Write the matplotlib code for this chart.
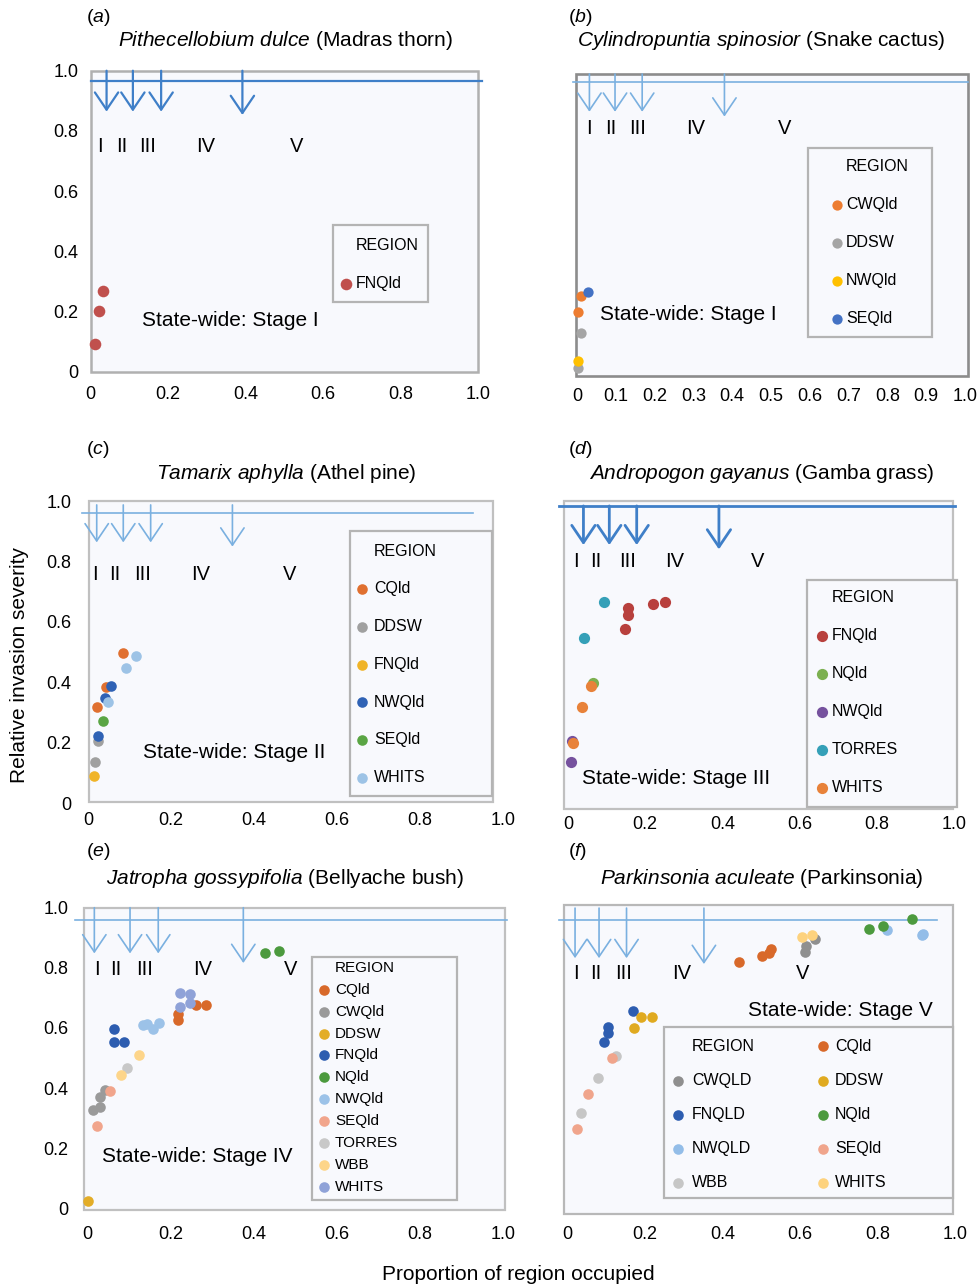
import matplotlib
matplotlib.use('Agg')
import matplotlib.pyplot as plt
from matplotlib.lines import Line2D
from matplotlib.patches import Rectangle

plt.rcParams['font.family'] = ['Liberation Sans', 'DejaVu Sans']
plt.rcParams['mathtext.fontset'] = 'custom'
plt.rcParams['mathtext.rm'] = 'Liberation Sans'
plt.rcParams['mathtext.it'] = 'Liberation Sans:italic'

# ---------------- data ----------------
stage_labels = ['I', 'II', 'III', 'IV', 'V']
ticks_main = [0, 0.2, 0.4, 0.6, 0.8, 1.0]
tick_labels_main = ['0', '0.2', '0.4', '0.6', '0.8', '1.0']
ticks_b = [0, 0.1, 0.2, 0.3, 0.4, 0.5, 0.6, 0.7, 0.8, 0.9, 1.0]
tick_labels_b = ['0', '0.1', '0.2', '0.3', '0.4', '0.5', '0.6', '0.7', '0.8', '0.9', '1.0']

# (a) Pithecellobium dulce
a_regions = ['FNQld']
a_colors = ['#c0504d']
a_x = [[0.011, 0.022, 0.033]]
a_y = [[0.091, 0.202, 0.268]]
a_stage_x = [0.041, 0.109, 0.182, 0.392]
a_label_x = [0.024, 0.080, 0.147, 0.298, 0.531]

# (b) Cylindropuntia spinosior
b_regions = ['CWQld', 'DDSW', 'NWQld', 'SEQld']
b_colors = ['#ed7d31', '#a5a5a5', '#ffc000', '#4472c4']
b_x = [[0.010, 0.003], [0.010, 0.003], [0.003], [0.029]]
b_y = [[0.265, 0.213], [0.143, 0.028], [0.051], [0.277]]
b_stage_x = [0.032, 0.098, 0.168, 0.380]
b_label_x = [0.032, 0.087, 0.155, 0.305, 0.535]

# (c) Tamarix aphylla
c_regions = ['CQld', 'DDSW', 'FNQld', 'NWQld', 'SEQld', 'WHITS']
c_colors = ['#e07030', '#a0a0a0', '#f0b428', '#2f62b5', '#5aa544', '#9dc3e6']
c_x = [[0.085, 0.043, 0.021], [0.023, 0.017], [0.014],
       [0.055, 0.041, 0.023], [0.035], [0.115, 0.092, 0.047]]
c_y = [[0.498, 0.385, 0.317], [0.205, 0.137], [0.090],
       [0.387, 0.347, 0.223], [0.273], [0.487, 0.448, 0.333]]
c_stage_x = [0.021, 0.085, 0.151, 0.348]
c_label_x = [0.017, 0.065, 0.132, 0.272, 0.485]

# (d) Andropogon gayanus
d_regions = ['FNQld', 'NQld', 'NWQld', 'TORRES', 'WHITS']
d_colors = ['#b8403d', '#7cb050', '#76529e', '#35a0b8', '#e8823a']
d_x = [[0.156, 0.156, 0.219, 0.251, 0.148], [0.064], [0.010, 0.008],
       [0.092, 0.041], [0.060, 0.035, 0.014]]
d_y = [[0.652, 0.630, 0.666, 0.673, 0.583], [0.408], [0.222, 0.152],
       [0.671, 0.556], [0.399, 0.332, 0.215]]
d_stage_x = [0.040, 0.107, 0.178, 0.391]
d_label_x = [0.021, 0.073, 0.154, 0.277, 0.491]

# (e) Jatropha gossypifolia
e_regions = ['CQld', 'CWQld', 'DDSW', 'FNQld', 'NQld', 'NWQld', 'SEQld',
             'TORRES', 'WBB', 'WHITS']
e_colors = ['#d8692a', '#9a9a9a', '#e3ad28', '#2d5db0', '#4c9a3e', '#9cc2e8',
            '#f1a58c', '#c8c8c8', '#fdd58a', '#8fa2d8']
e_x = [[0.262, 0.285, 0.218, 0.218], [0.042, 0.030, 0.030, 0.013], [0.0],
       [0.064, 0.064, 0.087], [0.427, 0.462], [0.142, 0.158, 0.172, 0.134],
       [0.054, 0.023], [0.094], [0.124, 0.080], [0.222, 0.246, 0.246, 0.222]]
e_y = [[0.676, 0.676, 0.648, 0.626], [0.395, 0.369, 0.336, 0.328], [0.023],
       [0.596, 0.554, 0.554], [0.849, 0.855], [0.612, 0.596, 0.617, 0.609],
       [0.389, 0.275], [0.468], [0.510, 0.442], [0.717, 0.712, 0.684, 0.671]]
e_stage_x = [0.016, 0.102, 0.170, 0.375]
e_label_x = [0.022, 0.068, 0.136, 0.276, 0.488]

# (f) Parkinsonia aculeate
f_regions = ['CWQLD', 'FNQLD', 'NWQLD', 'WBB', 'CQld', 'DDSW', 'NQld', 'SEQld', 'WHITS']
f_colors = ['#8f8f8f', '#2d5db0', '#93bde8', '#c6c6c6', '#d8692a', '#e0aa20',
            '#4c9a3e', '#f0a58c', '#fdd27e']
f_x = [[0.639, 0.616, 0.613], [0.168, 0.103, 0.105, 0.095], [0.824, 0.915, 0.918],
       [0.124, 0.078, 0.034], [0.525, 0.521, 0.503, 0.443], [0.189, 0.217, 0.172],
       [0.889, 0.779, 0.816], [0.115, 0.053, 0.023], [0.605, 0.630]]
f_y = [[0.890, 0.867, 0.847], [0.658, 0.606, 0.585, 0.558], [0.919, 0.903, 0.906],
       [0.511, 0.441, 0.326], [0.858, 0.844, 0.836, 0.814], [0.639, 0.637, 0.603],
       [0.955, 0.922, 0.932], [0.504, 0.388, 0.274], [0.895, 0.903]]
f_stage_x = [0.019, 0.081, 0.152, 0.352]
f_label_x = [0.021, 0.073, 0.145, 0.294, 0.607]

# ---------------- figure ----------------
W, H = 980, 1286
fig = plt.figure(figsize=(W / 100, H / 100), dpi=100)
fig.patch.set_facecolor('white')


def fx(px):
    return px / W


def fy(py):
    return 1 - py / H


BG = '#f8f9fd'
HL = 0.6


def add_legend(ax, handles, marker_x, text_x, first_y, pitch, fs):
    fpx = fs * 100 / 72.0
    h = 0.93 * fpx
    ls = (pitch - h) / fpx
    tp = (text_x - marker_x - HL * fpx / 2) / fpx
    anchor_x = marker_x - HL * fpx / 2
    anchor_y = first_y - h / 2 + 1.0
    leg = ax.legend(handles=handles, loc='upper left',
                    bbox_to_anchor=(fx(anchor_x), fy(anchor_y)),
                    bbox_transform=fig.transFigure, borderaxespad=0,
                    borderpad=0, frameon=False, fontsize=fs, labelspacing=ls,
                    handlelength=HL, handletextpad=tp, scatterpoints=1)
    leg.set_zorder(5)
    return leg


def panel(axpix, framepix, frame_style, xt, xtl, yt, ytl, xpad, ypad,
          regions, colors, xs, ys, msize,
          line_y, line_x0, line_x1, line_color, line_lw,
          stage_x, arrow_top, arrow_heads, label_x, label_y,
          legbox, legcols):
    x0, x1, ytop, ybot = axpix
    ax = fig.add_axes([fx(x0), fy(ybot), (x1 - x0) / W, (ybot - ytop) / H])
    ax.patch.set_visible(False)
    for s in ax.spines.values():
        s.set_visible(False)
    fl, ft, fr, fb = framepix
    ec, elw = frame_style
    ax.add_patch(Rectangle((fx(fl), fy(fb)), (fr - fl) / W, (fb - ft) / H,
                           transform=fig.transFigure, facecolor=BG, edgecolor=ec,
                           lw=elw, zorder=0, clip_on=False))
    ax.set_xlim(0, 1)
    ax.set_ylim(0, 1)
    ax.set_xticks(xt)
    ax.set_xticklabels(xtl)
    ax.set_yticks(yt)
    ax.set_yticklabels(ytl)
    ax.tick_params(axis='x', length=0, pad=xpad, labelsize=13)
    ax.tick_params(axis='y', length=0, pad=ypad, labelsize=13)

    handles = []
    for r, c, x, y in zip(regions, colors, xs, ys):
        h = ax.scatter(x, y, s=msize, color=c, label=r, linewidths=0,
                       zorder=3, clip_on=False)
        handles.append(h)

    ax.plot([line_x0, line_x1], [line_y, line_y], color=line_color,
            lw=line_lw, clip_on=False, zorder=2)
    for sx, hy in zip(stage_x, arrow_heads):
        ax.annotate('', xy=(sx, hy), xytext=(sx, arrow_top),
                    arrowprops=dict(arrowstyle='->,head_length=0.62,head_width=0.42',
                                    color=line_color, lw=line_lw, shrinkA=0,
                                    shrinkB=0, mutation_scale=20), zorder=2)
    for lx, lab in zip(label_x, stage_labels):
        ax.text(lx, label_y, lab, ha='center', va='center', fontsize=14.5)

    # legend frame
    l, t, r_, b = legbox
    ax.add_patch(Rectangle((fx(l), fy(b)), (r_ - l) / W, (b - t) / H,
                           transform=fig.transFigure, facecolor=BG,
                           edgecolor='#b4b4b4', lw=1.6, zorder=4, clip_on=False))
    blank = Line2D([], [], linestyle='none', label='REGION')
    allh = [blank] + handles
    legs = []
    start = 0
    for (n, mx, tx, y1, pitch, fs) in legcols:
        legs.append(add_legend(ax, allh[start:start + n], mx, tx, y1, pitch, fs))
        start += n
    for lg in legs[:-1]:
        ax.add_artist(lg)
    return ax


# (a)
panel((90.7, 477.7, 70.7, 371.7), (91, 71, 478, 372), ('#b0b0b0', 1.8),
      ticks_main, tick_labels_main, ticks_main, tick_labels_main, 10, 9,
      a_regions, a_colors, a_x, a_y, 70,
      0.966, 0.0, 1.011, '#3f7fc8', 1.6,
      a_stage_x, 1.0, [0.864, 0.864, 0.864, 0.853], a_label_x, 0.748,
      (333, 225, 428, 302), [(2, 346, 356, 244, 38, 11.5)])

# (b)
panel((577, 965, 74, 376), (576, 74, 968, 376), ('#8c8c8c', 1.9),
      ticks_b, tick_labels_b, [], [], 8.6, 9,
      b_regions, b_colors, b_x, b_y, 55,
      0.972, -0.01, 1.008, '#7ab0e0', 1.2,
      b_stage_x, 1.0, [0.875, 0.875, 0.875, 0.859], b_label_x, 0.82,
      (808, 148, 932, 337), [(5, 836.5, 846, 165, 38, 11.5)])

# (c)
panel((88, 503, 501, 803), (89, 501, 493, 802), ('#c0c0c0', 1.6),
      ticks_main, tick_labels_main, ticks_main, tick_labels_main, 6.5, 12,
      c_regions, c_colors, c_x, c_y, 58,
      0.959, -0.015, 0.928, '#7ab0e0', 1.2,
      c_stage_x, 0.987, [0.863, 0.863, 0.863, 0.849], c_label_x, 0.755,
      (350, 531, 492, 796), [(7, 362, 374, 550, 37.6, 11.5)])

# (d)
panel((568, 954, 501, 809), (564, 501, 953, 809), ('#c0c0c0', 1.6),
      ticks_main, tick_labels_main, [], [], 5, 9,
      d_regions, d_colors, d_x, d_y, 65,
      0.984, -0.023, 1.003, '#3f7fc8', 2.0,
      d_stage_x, 0.984, [0.857, 0.857, 0.857, 0.843], d_label_x, 0.803,
      (807, 580, 957, 807), [(6, 822, 832, 596, 38, 11.5)])

# (e)
panel((87.7, 502.7, 907.7, 1208.3), (84, 908, 505, 1210), ('#c0c0c0', 1.6),
      ticks_main, tick_labels_main, ticks_main, tick_labels_main, 13, 14,
      e_regions, e_colors, e_x, e_y, 58,
      0.96, -0.03, 1.01, '#7ab0e0', 1.2,
      e_stage_x, 1.0, [0.848, 0.848, 0.848, 0.816], e_label_x, 0.795,
      (312, 957, 457, 1200), [(11, 324, 335, 967, 22.1, 11)])

# (f)
panel((567.7, 954.7, 905, 1214), (564, 905, 953, 1214), ('#b8b8b8', 1.6),
      ticks_main, tick_labels_main, [], [], 8.6, 9,
      f_regions, f_colors, f_x, f_y, 58,
      0.951, -0.022, 0.953, '#7ab0e0', 1.2,
      f_stage_x, 0.99, [0.828, 0.828, 0.828, 0.809], f_label_x, 0.778,
      (664, 1027, 953, 1198),
      [(5, 678.3, 692, 1045, 34, 11.5), (5, 823.3, 835, 1045, 34, 11.5)])

# ---------------- titles & annotations ----------------
panel_tags = [('a', 86, 18), ('b', 568, 18), ('c', 86, 450),
              ('d', 568, 450), ('e', 86, 851), ('f', 568, 851)]
for tag, px, py in panel_tags:
    fig.text(fx(px), fy(py), r'($\mathit{%s}$)' % tag, ha='left', va='center',
             fontsize=14)

titles = [
    (r'$\mathit{Pithecellobium\ dulce}$ (Madras thorn)', 285.5, 41),
    (r'$\mathit{Cylindropuntia\ spinosior}$ (Snake cactus)', 761, 41),
    (r'$\mathit{Tamarix\ aphylla}$ (Athel pine)', 286, 473),
    (r'$\mathit{Andropogon\ gayanus}$ (Gamba grass)', 761.5, 473),
    (r'$\mathit{Jatropha\ gossypifolia}$ (Bellyache bush)', 285, 878),
    (r'$\mathit{Parkinsonia\ aculeate}$ (Parkinsonia)', 761.5, 878),
]
for t, px, py in titles:
    fig.text(fx(px), fy(py), t, ha='center', va='center', fontsize=15)

statewide = [('State-wide: Stage I', 142, 321), ('State-wide: Stage I', 600, 314),
             ('State-wide: Stage II', 143, 753), ('State-wide: Stage III', 582, 778),
             ('State-wide: Stage IV', 102, 1157), ('State-wide: Stage V', 748, 1010)]
for t, px, py in statewide:
    fig.text(fx(px), fy(py), t, ha='left', va='center', fontsize=15, zorder=6)

fig.text(fx(20), fy(665), 'Relative invasion severity', rotation=90,
         ha='center', va='center', fontsize=15)
fig.text(fx(518), fy(1274), 'Proportion of region occupied', ha='center',
         va='center', fontsize=15)

fig.savefig('out.png', dpi=100, facecolor='white')
